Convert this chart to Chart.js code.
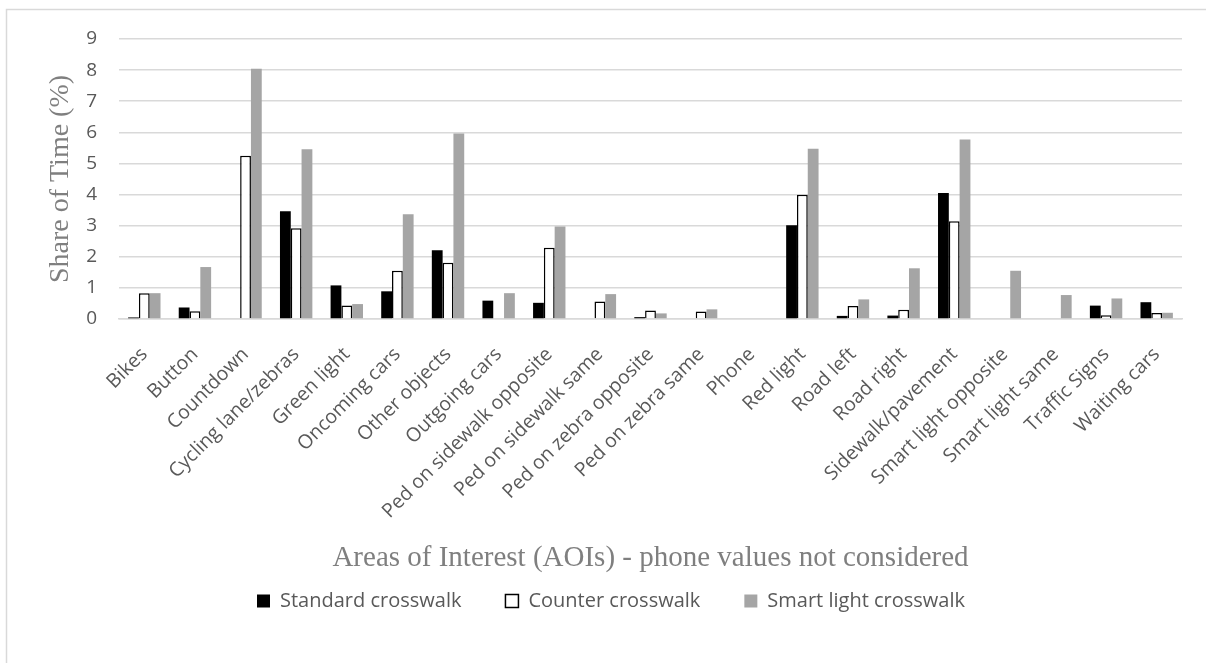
<!DOCTYPE html>
<html>
<head>
<meta charset="utf-8">
<script src="https://cdn.jsdelivr.net/npm/chart.js@4"></script>
<style>
  html, body { margin: 0; padding: 0; background: #ffffff; }
  #wrap { position: relative; width: 1206px; height: 663px; }
</style>
</head>
<body>
<div id="wrap"><canvas id="chart"></canvas></div>
<script>
// Areas of interest (x categories)
const categories = [
  'Bikes', 'Button', 'Countdown', 'Cycling lane/zebras', 'Green light',
  'Oncoming cars', 'Other objects', 'Outgoing cars', 'Ped on sidewalk opposite',
  'Ped on sidewalk same', 'Ped on zebra opposite', 'Ped on zebra same', 'Phone',
  'Red light', 'Road left', 'Road right', 'Sidewalk/pavement',
  'Smart light opposite', 'Smart light same', 'Traffic Signs', 'Waiting cars'
];

// Share of time (%) per crosswalk type
const standardCrosswalk = [0.05, 0.37, 0, 3.46, 1.08, 0.89, 2.21, 0.59, 0.52, 0, 0.06, 0, 0, 3.01, 0.10, 0.11, 4.05, 0, 0, 0.43, 0.54];
const counterCrosswalk  = [0.83, 0.25, 5.25, 2.92, 0.43, 1.55, 1.81, 0, 2.29, 0.56, 0.27, 0.24, 0, 3.99, 0.42, 0.30, 3.14, 0, 0, 0.12, 0.19];
const smartCrosswalk    = [0.83, 1.67, 8.04, 5.46, 0.48, 3.37, 5.96, 0.83, 2.97, 0.80, 0.18, 0.31, 0, 5.47, 0.63, 1.63, 5.77, 1.55, 0.77, 0.66, 0.20];

const seriesNames = ['Standard crosswalk', 'Counter crosswalk', 'Smart light crosswalk'];
const yAxisTitle = 'Share of Time (%)';
const xAxisTitle = 'Areas of Interest (AOIs) - phone values not considered';

const SANS = '"Open Sans", "Noto Sans", sans-serif';
const SERIF = '"Liberation Serif", "DejaVu Serif", serif';

// thin frame around the chart (top and left edges)
const framePlugin = {
  id: 'frame',
  beforeDraw(chart) {
    const ctx = chart.ctx;
    ctx.save();
    ctx.strokeStyle = '#d9d9d9';
    ctx.lineWidth = 1.5;
    ctx.beginPath();
    ctx.moveTo(6.5, chart.height);
    ctx.lineTo(6.5, 9.5);
    ctx.lineTo(chart.width, 9.5);
    ctx.stroke();
    ctx.restore();
  }
};

new Chart(document.getElementById('chart'), {
  type: 'bar',
  data: {
    labels: categories,
    datasets: [
      { label: seriesNames[0], data: standardCrosswalk, backgroundColor: '#000000', borderWidth: 0 },
      { label: seriesNames[1], data: counterCrosswalk, backgroundColor: '#ffffff', borderColor: '#000000', borderWidth: 1.5 },
      { label: seriesNames[2], data: smartCrosswalk, backgroundColor: '#a5a5a5', borderWidth: 0 }
    ]
  },
  options: {
    responsive: true,
    maintainAspectRatio: false,
    animation: false,
    categoryPercentage: 0.64,
    barPercentage: 1.0,
    layout: { padding: { left: 40, right: 24, top: 39, bottom: 42 } },
    plugins: {
      tooltip: { enabled: false },
      legend: {
        position: 'bottom',
        labels: {
          boxWidth: 13,
          boxHeight: 13,
          padding: 44,
          color: '#595959',
          font: { family: SANS, size: 20 }
        }
      }
    },
    scales: {
      x: {
        grid: { display: false },
        border: { display: true, color: '#d9d9d9', width: 1.5 },
        ticks: {
          autoSkip: false,
          minRotation: 45,
          maxRotation: 45,
          padding: 16,
          color: '#595959',
          font: { family: SANS, size: 19.5 }
        },
        title: {
          display: true,
          text: xAxisTitle,
          color: '#7f7f7f',
          font: { family: SERIF, size: 29 },
          padding: { top: 4, bottom: -28.5 }
        },
        afterFit(scale) { scale.height = 228; }
      },
      y: {
        min: 0,
        max: 9,
        ticks: {
          stepSize: 1,
          padding: 22,
          color: '#595959',
          font: { family: SANS, size: 19 }
        },
        grid: { color: '#d9d9d9', lineWidth: 1.5, drawTicks: false },
        border: { display: false },
        title: {
          display: true,
          text: yAxisTitle,
          color: '#7f7f7f',
          font: { family: SERIF, size: 28 },
          padding: { top: 4, bottom: 4 }
        },
        afterFit(scale) { scale.width = 79; }
      }
    }
  },
  plugins: [framePlugin]
});
</script>
</body>
</html>
